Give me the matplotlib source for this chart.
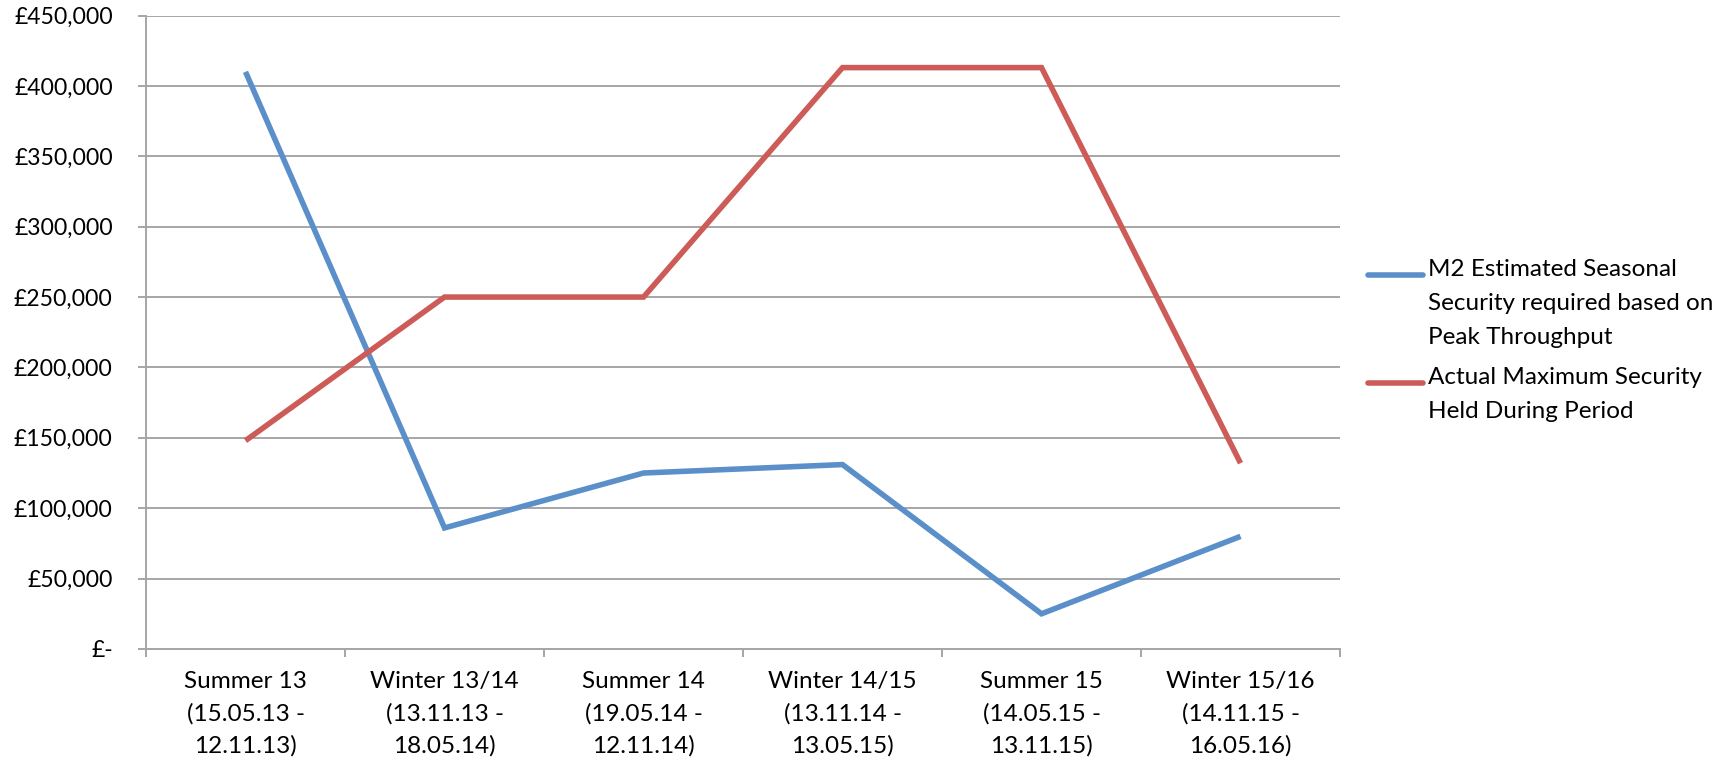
import matplotlib.pyplot as plt
from matplotlib.lines import Line2D
from matplotlib.ticker import FuncFormatter, MultipleLocator
import numpy as np

plt.rcParams['font.family'] = ['Lato', 'DejaVu Sans']

categories = ['Summer 13\n(15.05.13 -\n12.11.13)',
              'Winter 13/14\n(13.11.13 -\n18.05.14)',
              'Summer 14\n(19.05.14 -\n12.11.14)',
              'Winter 14/15\n(13.11.14 -\n13.05.15)',
              'Summer 15\n(14.05.15 -\n13.11.15)',
              'Winter 15/16\n(14.11.15 -\n16.05.16)']
m2_estimated = [410000, 86000, 125000, 131000, 25000, 80000]
actual_max = [148000, 250000, 250000, 413000, 413000, 132000]
series_names = ['M2 Estimated Seasonal\nSecurity required based on\nPeak Throughput',
                'Actual Maximum Security\nHeld During Period']

blue = '#5B8FCA'
red = '#CD5C58'
grid_col = '#A6A6A6'
fs = 17.5

W, H = 1734, 761
fig = plt.figure(figsize=(W / 100, H / 100), dpi=100)
ax = fig.add_axes([0.0842, 0.1472, 0.6886, 0.8324])

x = np.arange(len(categories))
for vals, col in [(m2_estimated, blue), (actual_max, red)]:
    ax.plot(x, vals, color=col, lw=4, solid_capstyle='butt',
            solid_joinstyle='miter')

ax.set_xlim(-0.5, len(categories) - 0.5)
ax.set_ylim(0, 450000)
ax.yaxis.set_major_locator(MultipleLocator(50000))
ax.yaxis.set_major_formatter(FuncFormatter(
    lambda v, p: '£-' if v == 0 else '£{:,.0f}'.format(v)))
ax.grid(axis='y', color=grid_col, lw=1.4)
ax.set_axisbelow(True)

ax.set_xticks(x)
ax.set_xticklabels(categories, linespacing=1.6)
ax.set_xticks(np.arange(len(categories) + 1) - 0.5, minor=True)
ax.tick_params(axis='x', which='major', length=0, pad=16, labelsize=fs)
ax.tick_params(axis='x', which='minor', length=6, width=1.4, color=grid_col)
ax.tick_params(axis='y', length=6, width=1.4, color=grid_col, pad=18,
               labelsize=16.6)

for s in ['top', 'right']:
    ax.spines[s].set_visible(False)
for s in ['left', 'bottom']:
    ax.spines[s].set_color(grid_col)
    ax.spines[s].set_linewidth(1.4)

# legend: handle level with the first text line, like the original
legend_rows = [(series_names[0], blue, 275), (series_names[1], red, 383)]
for name, col, ypx in legend_rows:
    yf = 1 - ypx / H
    fig.add_artist(Line2D([1368 / W, 1423 / W], [yf, yf], color=col, lw=4,
                          solid_capstyle='round', transform=fig.transFigure))
    fig.text(1428 / W, yf + 16 / H, name, fontsize=fs, va='top', ha='left',
             linespacing=1.75)

fig.savefig('out.png', dpi=100)
